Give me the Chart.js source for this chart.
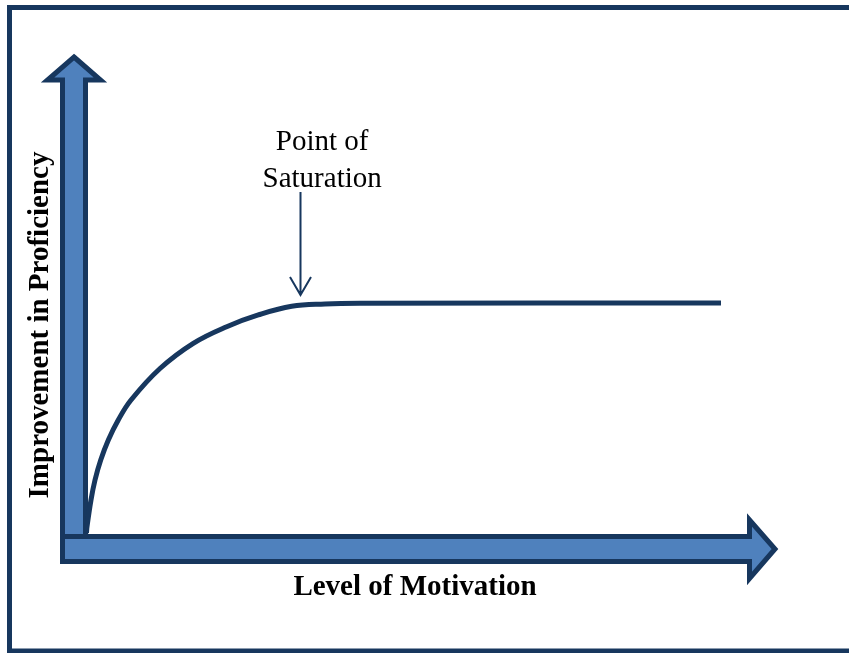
<!DOCTYPE html>
<html>
<head>
<meta charset="utf-8">
<script src="https://cdn.jsdelivr.net/npm/chart.js@4/dist/chart.umd.min.js"></script>
<style>
  html, body { margin: 0; padding: 0; background: #ffffff; }
  canvas { display: block; }
</style>
</head>
<body>
<canvas id="c" width="849" height="653"></canvas>
<script>
// ---- data ----
const motivation  = [1.77, 1.84, 2.41, 2.98, 3.79, 4.87, 6.28, 8.09, 12.20, 16.92, 21.66, 26.14, 30.88, 35.60, 40.57, 91.77];
const proficiency = [3.23, 4.44, 9.88, 13.91, 17.94, 21.98, 26.01, 30.04, 36.39, 41.47, 44.82, 47.18, 48.93, 49.40, 49.54, 49.60];
const xTitle = 'Level of Motivation';
const yTitle = 'Improvement in Proficiency';
const annotationLines = ['Point of', 'Saturation'];
const saturationX = 32.1;        // data x of the annotation arrow
const saturationArrowTop = 72;   // data y where annotation arrow starts
const saturationArrowEnd = 51.2; // data y where annotation arrow tip is
const annotationTextX = 35.2;

const DARK = '#17375e';
const FILL = '#4f81bd';

const decor = {
  id: 'decor',
  beforeDatasetsDraw(chart) {
    const ctx = chart.ctx;
    const a = chart.chartArea;
    ctx.save();
    // frame
    ctx.strokeStyle = DARK;
    ctx.lineWidth = 5;
    ctx.strokeRect(9.5, 7.5, 860, 643.5);

    ctx.lineJoin = 'miter';
    ctx.lineWidth = 5;
    // vertical arrow (axis of proficiency)
    const vx = a.left;            // centre of shaft
    ctx.beginPath();
    ctx.moveTo(vx, a.top + 4);
    ctx.lineTo(vx + 26.5, a.top + 27);
    ctx.lineTo(vx + 11.5, a.top + 27);
    ctx.lineTo(vx + 11.5, a.bottom + 12);
    ctx.lineTo(vx - 11.5, a.bottom + 12);
    ctx.lineTo(vx - 11.5, a.top + 27);
    ctx.lineTo(vx - 26.5, a.top + 27);
    ctx.closePath();
    ctx.fillStyle = FILL;
    ctx.fill();
    ctx.strokeStyle = DARK;
    ctx.stroke();

    // horizontal arrow (axis of motivation)
    const hy = a.bottom;
    const left = vx - 11.5;
    ctx.beginPath();
    ctx.moveTo(left, hy - 12.5);
    ctx.lineTo(a.right - 29.5, hy - 12.5);
    ctx.lineTo(a.right - 29.5, hy - 29);
    ctx.lineTo(a.right - 4, hy);
    ctx.lineTo(a.right - 29.5, hy + 29.5);
    ctx.lineTo(a.right - 29.5, hy + 12.5);
    ctx.lineTo(left, hy + 12.5);
    ctx.closePath();
    ctx.fillStyle = FILL;
    ctx.fill();
    ctx.stroke();
    ctx.restore();
  },
  afterDraw(chart) {
    const ctx = chart.ctx;
    const xs = chart.scales.x, ys = chart.scales.y;
    ctx.save();
    // annotation arrow
    const ax = Math.round(xs.getPixelForValue(saturationX)) + 0.5;
    const y0 = ys.getPixelForValue(saturationArrowTop);
    const y1 = ys.getPixelForValue(saturationArrowEnd);
    ctx.strokeStyle = DARK;
    ctx.lineWidth = 2;
    ctx.lineCap = 'butt';
    ctx.beginPath();
    ctx.moveTo(ax, y0);
    ctx.lineTo(ax, y1);
    ctx.moveTo(ax - 10.5, y1 - 18);
    ctx.lineTo(ax, y1);
    ctx.lineTo(ax + 10.5, y1 - 18);
    ctx.stroke();

    // annotation text
    ctx.fillStyle = '#000';
    ctx.textAlign = 'center';
    ctx.textBaseline = 'alphabetic';
    ctx.font = '29px "Liberation Serif", "Times New Roman", serif';
    const tx = xs.getPixelForValue(annotationTextX);
    ctx.fillText(annotationLines[0], tx, 150);
    ctx.fillText(annotationLines[1], tx, 187);

    // axis titles
    ctx.font = 'bold 29px "Liberation Serif", "Times New Roman", serif';
    ctx.fillText(xTitle, 415, 595);
    ctx.translate(48, 325);
    ctx.rotate(-Math.PI / 2);
    ctx.fillText(yTitle, 0, 0);
    ctx.restore();
  }
};

new Chart(document.getElementById('c'), {
  type: 'line',
  data: {
    datasets: [{
      data: motivation.map((x, i) => ({ x: x, y: proficiency[i] })),
      borderColor: DARK,
      borderWidth: 5,
      pointRadius: 0,
      tension: 0.4,
      fill: false
    }]
  },
  options: {
    responsive: false,
    animation: false,
    events: [],
    layout: { padding: { left: 74, right: 70, top: 53, bottom: 104 } },
    plugins: { legend: { display: false }, tooltip: { enabled: false }, title: { display: false } },
    scales: {
      x: { type: 'linear', min: 0, max: 100, display: false },
      y: { type: 'linear', min: 0, max: 100, display: false }
    }
  },
  plugins: [decor]
});
</script>
</body>
</html>
